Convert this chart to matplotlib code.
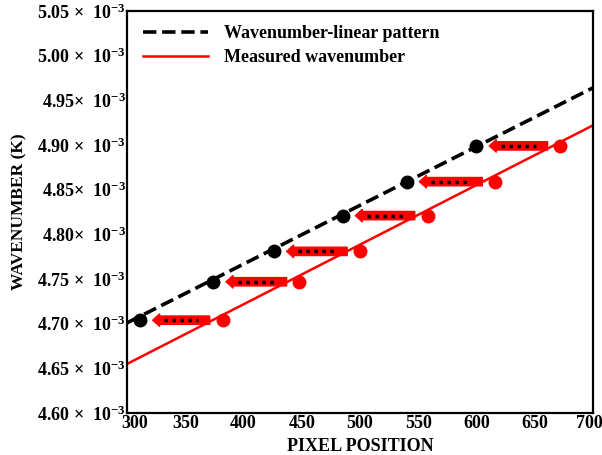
import numpy as np
import matplotlib
matplotlib.use('Agg')
import matplotlib.pyplot as plt
import matplotlib.transforms as mtransforms
from matplotlib.patches import FancyArrowPatch

plt.rcParams['font.family'] = 'serif'
plt.rcParams['font.serif'] = ['Liberation Serif', 'DejaVu Serif']
plt.rcParams['font.weight'] = 'bold'
plt.rcParams['mathtext.fontset'] = 'custom'
plt.rcParams['mathtext.rm'] = 'Liberation Serif:bold'
plt.rcParams['mathtext.it'] = 'Liberation Serif:bold'
plt.rcParams['mathtext.bf'] = 'Liberation Serif:bold'

# Данные (волновое число в единицах 1e-3)
linear_px = [311, 374, 426, 485, 540, 600]
measured_px = [382, 448, 500, 558, 616, 672]
wavenumber = [4.704, 4.747, 4.781, 4.821, 4.859, 4.899]

# Прямые по краям графика
line_x = [300, 700]
linear_line = [4.701, 4.964]
measured_line = [4.655, 4.922]

y_ticks = [4.60, 4.65, 4.70, 4.75, 4.80, 4.85, 4.90, 4.95, 5.00, 5.05]
y_tick_labels = ['4.60 ×  10$^{-3}$', '4.65 ×  10$^{-3}$', '4.70 ×  10$^{-3}$',
                 '4.75 ×  10$^{-3}$', '4.80×  10$^{-3}$', '4.85×  10$^{-3}$',
                 '4.90 ×  10$^{-3}$', '4.95×  10$^{-3}$', '5.00 ×  10$^{-3}$',
                 '5.05 ×  10$^{-3}$']
x_ticks = [300, 350, 400, 450, 500, 550, 600, 650, 700]

fig = plt.figure(figsize=(6.02, 4.55), dpi=100)
ax = fig.add_axes([0.211, 0.092, 0.774, 0.884])

ax.plot(line_x, linear_line, '--', color='black', lw=2.6,
        label='Wavenumber-linear pattern')
ax.plot(line_x, measured_line, '-', color='red', lw=1.8,
        label='Measured wavenumber')

# Стрелки от измеренных точек к линейным
gap = 11
for bx, rx, y in zip(linear_px, measured_px, wavenumber):
    arr = FancyArrowPatch((rx - gap, y), (bx + gap, y),
                          arrowstyle='simple,head_length=0.5,head_width=0.9,tail_width=0.6',
                          mutation_scale=10, color='red', shrinkA=0, shrinkB=0,
                          zorder=3)
    ax.add_patch(arr)
    ax.plot([bx + gap + 10, rx - gap - 10], [y, y], color='black', lw=2.5,
            linestyle=(0, (1, 1.3)), zorder=4)

ax.plot(linear_px, wavenumber, 'o', color='black', markersize=9, zorder=5)
ax.plot(measured_px, wavenumber, 'o', color='red', markersize=9, zorder=5)

ax.set_xlim(300, 700)
ax.set_ylim(4.60, 5.05)
ax.set_xticks(x_ticks)
ax.set_yticks(y_ticks)
ax.set_yticklabels(y_tick_labels)
ax.tick_params(length=0, labelsize=13, pad=1)
for s in ax.spines.values():
    s.set_linewidth(1.6)

# сдвиг крайних подписей по оси x
xlabels = ax.get_xticklabels()
xlabels[0].set_transform(xlabels[0].get_transform() +
                         mtransforms.ScaledTranslation(0.08, 0, fig.dpi_scale_trans))
xlabels[-1].set_transform(xlabels[-1].get_transform() +
                          mtransforms.ScaledTranslation(-0.04, 0, fig.dpi_scale_trans))

ax.set_xlabel('PIXEL POSITION', fontsize=13, fontweight='bold')
ax.set_ylabel('WAVENUMBER (K)', fontsize=12.5, fontweight='bold')
ax.xaxis.set_label_coords(0.5, -0.062)
ax.yaxis.set_label_coords(-0.214, 0.5)

ax.legend(loc='upper left', bbox_to_anchor=(0.034, 0.965), frameon=False,
          handlelength=3.6, handletextpad=0.9, borderpad=0, borderaxespad=0,
          labelspacing=0.4, prop={'weight': 'bold', 'size': 13})

fig.savefig('out.png', dpi=100)
